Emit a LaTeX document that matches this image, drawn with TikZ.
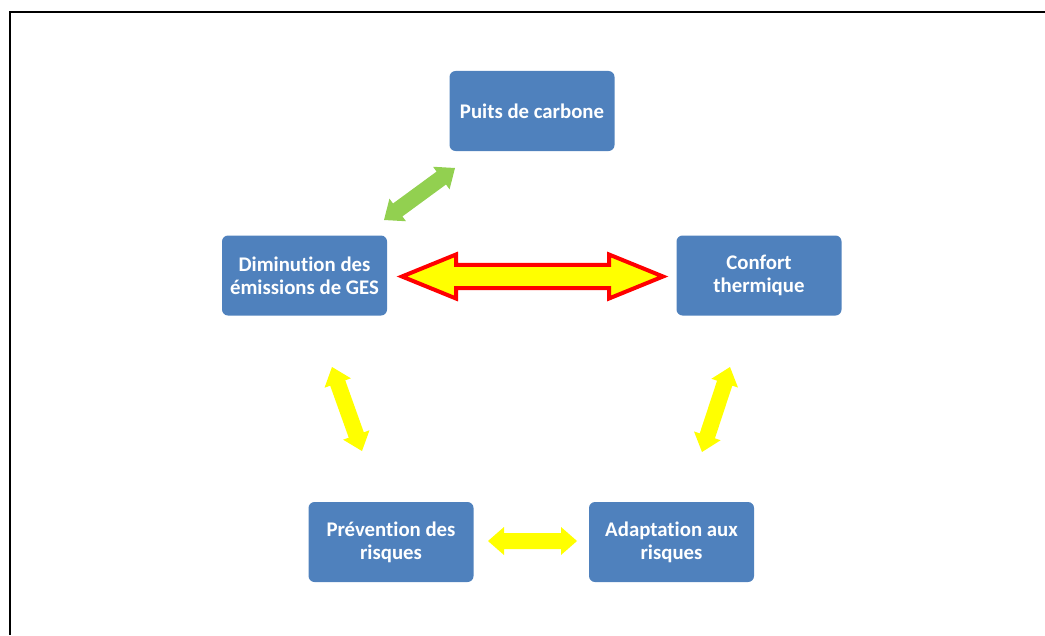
\documentclass[tikz,border=0pt]{standalone}
\usepackage{fontspec}
\setmainfont{Carlito}[Ligatures={NoCommon}]
\usetikzlibrary{calc}
\definecolor{boxblue}{HTML}{4F81BD}
\definecolor{arrgreen}{HTML}{92D050}
\definecolor{arryellow}{HTML}{FFFF00}
\definecolor{arrred}{HTML}{FF0000}
\tikzset{
  stepbox/.style={draw=none, fill=boxblue, rounded corners=4.5pt, text=white,
    minimum width=123.75pt, minimum height=60pt, align=center, inner sep=2pt,
    font=\fontsize{15.6pt}{17.5pt}\selectfont\bfseries},
  bigarrow/.style={fill=arryellow, draw=arrred, line width=3pt, line join=miter},
  smallyellow/.style={fill=arryellow, draw=none},
  smallgreen/.style={fill=arrgreen, draw=none},
  frameline/.style={draw=black, line width=1.5pt}
}
% #1 start, #2 end, #3 shaft half, #4 head half, #5 head length (px), #6 style
\newcommand\blockarr[6]{%
  \coordinate (#1-h) at ($(#1)!#5*0.75pt!(#2)$);
  \coordinate (#2-h) at ($(#2)!#5*0.75pt!(#1)$);
  \path[#6] (#1)
    -- ($(#1-h)!#4*0.75pt!90:(#2)$)
    -- ($(#1-h)!#3*0.75pt!90:(#2)$)
    -- ($(#2-h)!#3*0.75pt!-90:(#1)$)
    -- ($(#2-h)!#4*0.75pt!-90:(#1)$)
    -- (#2)
    -- ($(#2-h)!#4*0.75pt!90:(#1)$)
    -- ($(#2-h)!#3*0.75pt!90:(#1)$)
    -- ($(#1-h)!#3*0.75pt!-90:(#2)$)
    -- ($(#1-h)!#4*0.75pt!-90:(#2)$)
    -- cycle;
}
\begin{document}
\begin{tikzpicture}[x=0.75pt, y=-0.75pt]
\useasboundingbox (0,0) rectangle (1045,635);
% frame (only top and left edges visible)
\coordinate (fr1) at (1045,12);
\coordinate (fr2) at (9.5,12);
\coordinate (fr3) at (9.5,635);
\draw[frameline] (fr1) -- (fr2) -- (fr3);
% boxes
\node[stepbox] (puits) at (532,111) {Puits de carbone};
\node[stepbox] (dimin) at (304.5,275.5) {Diminution des\\émissions de GES};
\node[stepbox] (confort) at (759,275.5) {Confort\\thermique};
\node[stepbox] (prev) at (391,542) {Prévention des\\risques};
\node[stepbox] (adapt) at (671.5,542) {Adaptation aux\\risques};
% arrow end points
\coordinate (bigL) at (402,276.5);
\coordinate (bigR) at (663,276.5);
\coordinate (grA) at (384,220);
\coordinate (grB) at (455,168);
\coordinate (ylA) at (332,367);
\coordinate (ylB) at (362,451);
\coordinate (yrA) at (730,367);
\coordinate (yrB) at (702,452);
\coordinate (yhA) at (488,541);
\coordinate (yhB) at (577,541);
% arrows
\blockarr{bigL}{bigR}{11.7}{22}{54}{bigarrow}
\blockarr{grA}{grB}{8}{14}{17}{smallgreen}
\blockarr{ylA}{ylB}{8}{14}{17}{smallyellow}
\blockarr{yrA}{yrB}{8}{14}{17}{smallyellow}
\blockarr{yhA}{yhB}{8}{14}{16}{smallyellow}
\end{tikzpicture}
\end{document}
